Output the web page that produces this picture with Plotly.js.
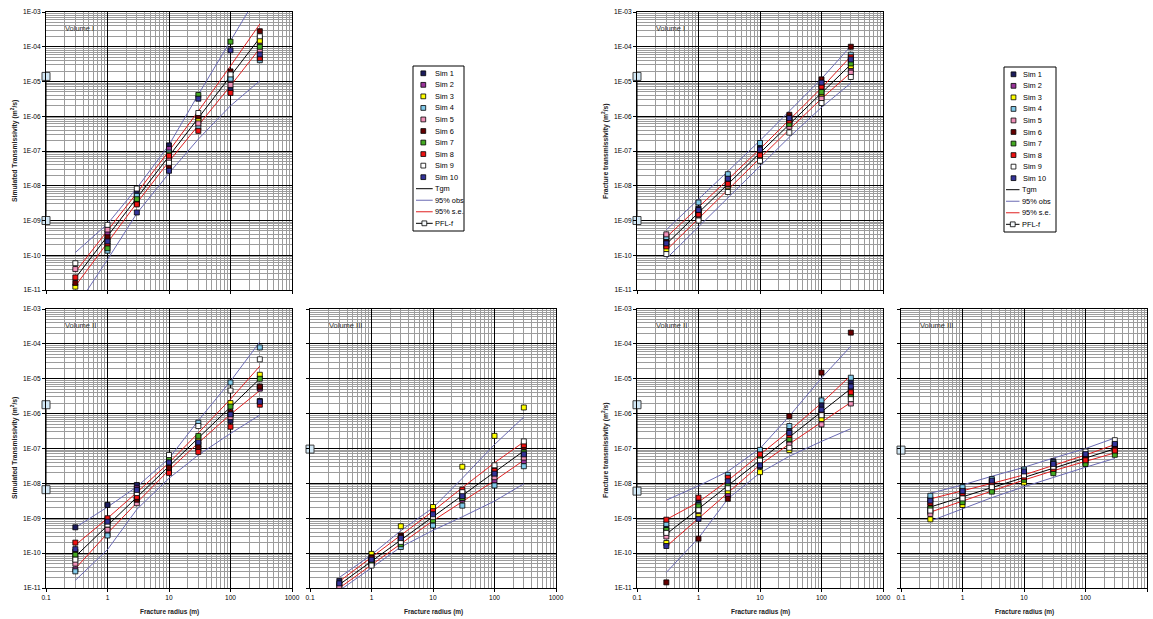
<!DOCTYPE html>
<html><head><meta charset="utf-8">
<script src="https://cdn.plot.ly/plotly-3.0.1.min.js"></script>
<style>html,body{margin:0;padding:0;background:#fff}#chart{width:1153px;height:619px}</style>
</head><body><div id="chart"></div>
<script>
// ---------- shared data ----------
const radii = [0.3, 1, 3, 10, 30, 100, 300];
const simNames = ['Sim 1','Sim 2','Sim 3','Sim 4','Sim 5','Sim 6','Sim 7','Sim 8','Sim 9','Sim 10'];
const simColors = ['#1c1c5c','#993399','#ffff00','#7fc8e8','#f090b8','#660000','#44aa22','#ee1111','#ffffff','#333399'];
const xTickVals = [0.1, 1, 10, 100, 1000];
const xTickText = ['0.1','1','10','100','1000'];
const yTickVals = [1e-11,1e-10,1e-9,1e-8,1e-7,1e-6,1e-5,1e-4,1e-3];
const yTickText = ['1E-11','1E-10','1E-09','1E-08','1E-07','1E-06','1E-05','1E-04','1E-03'];
const lineNames = ['Tgm','95% obs','95% s.e.','PFL-f'];

// ---------- Simulated, Volume I ----------
const simA = [
 [8e-12, 2.9e-10, 6.4e-9, 1.45e-7, 7e-7, 6e-6, 1.8e-4],
 [7e-12, 4.3e-10, 4.6e-9, 1.15e-7, 9e-7, 1.1e-5, 1.3e-4],
 [1.25e-11, 1.9e-10, 3.7e-9, 6.5e-8, 8e-7, 1.35e-5, 1.5e-4],
 [6e-12, 1.35e-10, 5.1e-9, 9e-8, 4.8e-7, 1.2e-5, 4.1e-5],
 [4e-11, 5.5e-10, 3.3e-9, 5.8e-8, 6.2e-7, 8e-6, 7.9e-5],
 [1.6e-11, 3.3e-10, 3.1e-9, 3.5e-8, 1e-6, 1.95e-5, 2.8e-4],
 [5e-12, 1.6e-10, 4.1e-9, 8e-8, 4.1e-6, 1.4e-4, 1e-4],
 [2.3e-11, 2.2e-10, 2.9e-9, 7.3e-8, 3.8e-7, 4.7e-6, 4.7e-5],
 [5.9e-11, 7.5e-10, 8.3e-9, 4.6e-8, 1.24e-6, 1.6e-5, 2e-4],
 [9e-12, 2.5e-10, 1.7e-9, 2.7e-8, 3.2e-6, 7.9e-5, 6e-5]
];
const tgmA  = [2.2e-11, 3.5e-10, 4.4e-9, 7.2e-8, 8.9e-7, 1.45e-5, 1.8e-4];
const seUA  = [3.3e-11, 5e-10, 6.2e-9, 1e-7, 1.4e-6, 2.8e-5, 4.5e-4];
const seLA  = [1.3e-11, 2.3e-10, 3.2e-9, 5e-8, 5.5e-7, 7.5e-6, 9e-5];
const obsUA = [1.2e-10, 8e-10, 8.5e-9, 1.5e-7, 4.2e-6, 1.4e-4, 3.8e-3];
const obsLA = [3e-12, 7.5e-11, 1.6e-9, 2.3e-8, 2.2e-7, 2e-6, 1.05e-5];
const pflXA = [0.1, 0.1];
const pflA  = [1.4e-5, 1e-9];

// ---------- Simulated, Volume II ----------
const simB = [
 [5.5e-10, 2.4e-9, 9e-9, 3.2e-8, 1.6e-7, 6.2e-7, 2.3e-6],
 [3.4e-11, 3.6e-10, 7.2e-9, 2.6e-8, 1.3e-7, 9.5e-7, 5.2e-6],
 [7.5e-11, 5.5e-10, 4.6e-9, 4.5e-8, 2e-7, 2e-6, 1.3e-5],
 [3e-11, 3.2e-10, 3.7e-9, 3.7e-8, 5.5e-7, 7.8e-6, 7.9e-5],
 [5e-11, 4.7e-10, 2.7e-9, 2.3e-8, 1e-7, 8e-7, 6e-6],
 [1.1e-10, 9e-10, 3.4e-9, 2.8e-8, 1.1e-7, 1.1e-6, 5.9e-6],
 [9e-11, 7.5e-10, 5.8e-9, 5.4e-8, 2.3e-7, 1.6e-6, 1e-5],
 [2e-10, 1e-9, 4.1e-9, 2e-8, 8e-8, 4.2e-7, 1.8e-6],
 [6.5e-11, 6.6e-10, 5.3e-9, 6.5e-8, 4.4e-7, 4.6e-6, 3.6e-5],
 [1.3e-10, 8e-10, 6.5e-9, 4e-8, 1.5e-7, 9.5e-7, 2.2e-6]
];
const tgmB  = [8e-11, 6.2e-10, 4e-9, 3.1e-8, 2e-7, 1.55e-6, 1e-5];
const seUB  = [1.7e-10, 1e-9, 5.5e-9, 3.9e-8, 2.8e-7, 2.6e-6, 2.3e-5];
const seLB  = [3.6e-11, 3.7e-10, 2.8e-9, 2.4e-8, 1.45e-7, 9.5e-7, 4.6e-6];
const obsUB = [5.4e-10, 2.1e-9, 8e-9, 5.2e-8, 6.3e-7, 8.5e-6, 1.15e-4];
const obsLB = [1.66e-11, 1.26e-10, 1.8e-9, 1.4e-8, 6.5e-8, 2.7e-7, 9.1e-7];
const pflXB = [0.1, 0.1];
const pflB  = [1.8e-6, 6.6e-9];

// ---------- Simulated, Volume III ----------
const simC = [
 [1.6e-11, 6.7e-11, 2.6e-10, 1.18e-9, 4.1e-9, 1.8e-8, 6.5e-8],
 [1.2e-11, 5.5e-11, 2.3e-10, 1e-9, 3.4e-9, 1.2e-8, 4.4e-8],
 [8e-12, 9.5e-11, 5.9e-10, 2.1e-9, 3e-8, 2.3e-7, 1.5e-6],
 [7e-12, 4.8e-11, 1.5e-10, 6.2e-10, 2.3e-9, 8.7e-9, 3.1e-8],
 [1.1e-11, 6e-11, 2e-10, 9.5e-10, 4.5e-9, 1.5e-8, 5.5e-8],
 [9e-12, 7.6e-11, 3.2e-10, 1.4e-9, 5e-9, 2.6e-8, 1.1e-7],
 [7.5e-12, 5.2e-11, 1.8e-10, 8.7e-10, 3.8e-9, 2.1e-8, 7.7e-8],
 [8.5e-12, 7e-11, 2.9e-10, 1.6e-9, 6.6e-9, 2.3e-8, 1.25e-7],
 [9.5e-12, 4.4e-11, 2.1e-10, 1.1e-9, 5.6e-9, 3.3e-8, 1.6e-7],
 [1.36e-11, 6.5e-11, 2.7e-10, 1.3e-9, 4.3e-9, 1.9e-8, 6.8e-8]
];
const tgmC  = [1.25e-11, 5.9e-11, 2.4e-10, 1.1e-9, 4.5e-9, 2.1e-8, 8.5e-8];
const seUC  = [1.55e-11, 7.5e-11, 3.3e-10, 1.6e-9, 7.5e-9, 3.9e-8, 1.55e-7];
const seLC  = [1e-11, 4.6e-11, 1.8e-10, 8.5e-10, 3e-9, 1.2e-8, 4.6e-8];
const obsUC = [2e-11, 9e-11, 4.4e-10, 2e-9, 1.4e-8, 1.3e-7, 8e-7];
const obsLC = [8.4e-12, 3.9e-11, 1.5e-10, 4.5e-10, 1.1e-9, 3.1e-9, 9.7e-9];
const pflXC = [0.1];
const pflC  = [9.6e-8];

// ---------- Fracture, Volume I ----------
const simD = [
 [2.8e-10, 2.2e-9, 1.8e-8, 1.2e-7, 9.5e-7, 6.2e-6, 4e-5],
 [3.5e-10, 1.9e-9, 1.4e-8, 1e-7, 8.1e-7, 3.6e-6, 2.2e-5],
 [1.5e-10, 1.2e-9, 9.2e-9, 6.4e-8, 6.5e-7, 4.5e-6, 2.8e-5],
 [3.2e-10, 3.3e-9, 2.15e-8, 1.7e-7, 7e-7, 8e-6, 5.9e-5],
 [4e-10, 1.4e-9, 1e-8, 8e-8, 5e-7, 3.2e-6, 1.8e-5],
 [2.4e-10, 1.7e-9, 1.25e-8, 9e-8, 1.1e-6, 1.15e-5, 1e-4],
 [2e-10, 1.6e-9, 1.1e-8, 7e-8, 6e-7, 5e-6, 3.3e-5],
 [1.8e-10, 1.5e-9, 1.15e-8, 7.5e-8, 7.5e-7, 7.1e-6, 5e-5],
 [1.08e-10, 1e-9, 6.6e-9, 5.2e-8, 3.4e-7, 2.4e-6, 1.35e-5],
 [2.2e-10, 2e-9, 1.6e-8, 1.1e-7, 8.8e-7, 9.3e-6, 4.3e-5]
];
const tgmD  = [2.1e-10, 1.66e-9, 1.1e-8, 8.7e-8, 5.8e-7, 4.6e-6, 3.1e-5];
const seUD  = [3.3e-10, 2.4e-9, 1.5e-8, 1.15e-7, 7.8e-7, 6.5e-6, 5.3e-5];
const seLD  = [1.4e-10, 1.15e-9, 8e-9, 6.5e-8, 4.2e-7, 3.2e-6, 1.8e-5];
const obsUD = [5.4e-10, 4e-9, 2.6e-8, 2e-7, 1.4e-6, 1.2e-5, 1.05e-4];
const obsLD = [8e-11, 6.5e-10, 4.5e-9, 3.6e-8, 2.5e-7, 1.8e-6, 9e-6];
const pflXD = [0.1, 0.1];
const pflD  = [1.4e-5, 1e-9];

// ---------- Fracture, Volume II ----------
const simE = [
 [5.5e-10, 2.8e-9, 5.3e-9, 3.1e-8, 3.2e-7, 1.75e-6, 8.2e-6],
 [4.2e-10, 1.85e-9, 4.5e-9, 3.6e-8, 1.6e-7, 8.5e-7, 4.9e-6],
 [1.95e-10, 1.2e-9, 6e-9, 2.1e-8, 9e-8, 7e-7, 3e-6],
 [6.9e-10, 2.4e-9, 1.75e-8, 9.1e-8, 4.4e-7, 2.4e-6, 1.07e-5],
 [3e-10, 1.6e-9, 8e-9, 4.3e-8, 1.3e-7, 4.9e-7, 1.95e-6],
 [1.45e-11, 2.6e-10, 3.6e-9, 5e-8, 8.5e-7, 1.5e-5, 2.1e-4],
 [4.6e-10, 2.2e-9, 9.3e-9, 5.4e-8, 1.85e-7, 1e-6, 3.5e-6],
 [9.1e-10, 3.9e-9, 1.45e-8, 6.8e-8, 2.4e-7, 1.15e-6, 4.1e-6],
 [3.8e-10, 1.7e-9, 7.2e-9, 4.5e-8, 1.05e-7, 9e-7, 2.6e-6],
 [1.6e-10, 9.6e-10, 1.15e-8, 3.3e-8, 2.8e-7, 1.3e-6, 6e-6]
];
const tgmE  = [3.5e-10, 1.88e-9, 8.7e-9, 4.7e-8, 2.1e-7, 1.15e-6, 5.2e-6];
const seUE  = [9.2e-10, 2.9e-9, 1.2e-8, 6.5e-8, 3.2e-7, 2e-6, 1.25e-5];
const seLE  = [1.55e-10, 1e-9, 5.6e-9, 3.4e-8, 1.35e-7, 5.8e-7, 2.1e-6];
const obsUE = [3.3e-9, 8.5e-9, 2.2e-8, 1e-7, 8.5e-7, 1.05e-5, 8.6e-5];
const obsLE = [2.8e-11, 2.7e-10, 3.6e-9, 2e-8, 6e-8, 1.6e-7, 3.7e-7];
const pflXE = [0.1, 0.1];
const pflE  = [1.8e-6, 6e-9];

// ---------- Fracture, Volume III ----------
const simF = [
 [3.5e-9, 6.5e-9, 1.1e-8, 2e-8, 4.3e-8, 6.6e-8, 1.3e-7],
 [1.5e-9, 4.4e-9, 8.5e-9, 1.6e-8, 3.2e-8, 5.6e-8, 1.1e-7],
 [9.3e-10, 2.4e-9, 6.5e-9, 1.06e-8, 2.3e-8, 4e-8, 8e-8],
 [4.4e-9, 7.8e-9, 1.33e-8, 2.5e-8, 3.9e-8, 6.2e-8, 1.2e-7],
 [1.33e-9, 3.3e-9, 7e-9, 1.4e-8, 2.8e-8, 5e-8, 9.5e-8],
 [2.25e-9, 5.7e-9, 9.5e-9, 1.8e-8, 3.4e-8, 5.2e-8, 1e-7],
 [1.9e-9, 2.9e-9, 5.8e-9, 1.27e-8, 1.96e-8, 3.6e-8, 6.6e-8],
 [2.8e-9, 5.2e-9, 9e-9, 1.5e-8, 2.6e-8, 4.6e-8, 8.7e-8],
 [1.66e-9, 3.7e-9, 7.8e-9, 1.7e-8, 3e-8, 8.2e-8, 1.73e-7],
 [3.2e-9, 6e-9, 1.2e-8, 2.2e-8, 3.6e-8, 6.9e-8, 1.35e-7]
];
const tgmF  = [2.1e-9, 4.1e-9, 7.6e-9, 1.47e-8, 2.7e-8, 5.3e-8, 9.8e-8];
const seUF  = [3.6e-9, 6e-9, 1e-8, 1.75e-8, 3.3e-8, 6.5e-8, 1.3e-7];
const seLF  = [1.5e-9, 3.1e-9, 6e-9, 1.25e-8, 2.3e-8, 4.3e-8, 7.5e-8];
const obsUF = [5.2e-9, 9e-9, 1.6e-8, 2.9e-8, 5.3e-8, 1e-7, 2e-7];
const obsLF = [8.3e-10, 1.9e-9, 3.9e-9, 8e-9, 1.5e-8, 2.9e-8, 5.2e-8];
const pflXF = [0.1];
const pflF  = [9e-8];

// ---------- layout helpers ----------
const W = 1153, H = 619;
const FONT = '"Liberation Sans", Arial, Helvetica, sans-serif';
const px = v => v / W;
const py = v => 1 - v / H;

const panels = [
  {sims:simA, tgm:tgmA, seU:seUA, seL:seLA, obsU:obsUA, obsL:obsLA, pflX:pflXA, pfl:pflA, box:[46,292,12,290], label:'Volume I',   xlab:false, ylab:true},
  {sims:simB, tgm:tgmB, seU:seUB, seL:seLB, obsU:obsUB, obsL:obsLB, pflX:pflXB, pfl:pflB, box:[46,292,309,588], label:'Volume II', xlab:true,  ylab:true},
  {sims:simC, tgm:tgmC, seU:seUC, seL:seLC, obsU:obsUC, obsL:obsLC, pflX:pflXC, pfl:pflC, box:[310,556,309,588], label:'Volume III', xlab:true, ylab:false},
  {sims:simD, tgm:tgmD, seU:seUD, seL:seLD, obsU:obsUD, obsL:obsLD, pflX:pflXD, pfl:pflD, box:[637,883,12,290], label:'Volume I',  xlab:false, ylab:true},
  {sims:simE, tgm:tgmE, seU:seUE, seL:seLE, obsU:obsUE, obsL:obsLE, pflX:pflXE, pfl:pflE, box:[637,883,309,588], label:'Volume II', xlab:true, ylab:true},
  {sims:simF, tgm:tgmF, seU:seUF, seL:seLF, obsU:obsUF, obsL:obsLF, pflX:pflXF, pfl:pflF, box:[901,1147,309,588], label:'Volume III', xlab:true, ylab:false}
];

function minorLog(lo, hi) {
  const v = [];
  for (let e = lo; e < hi; e++) for (let d = 2; d <= 9; d++) v.push(d * Math.pow(10, e));
  return v;
}
const xMinor = minorLog(-1, 3);
const yMinor = minorLog(-11, -3);

const OBS = '#6a6ab4', SE = '#e02020', TGM = '#000000';
const traces = [];
const layout = {
  width: W, height: H,
  margin: {l:0, r:0, t:0, b:0},
  paper_bgcolor: '#fff', plot_bgcolor: '#fff',
  showlegend: false,
  font: {family: FONT, size: 7, color: '#000'},
  annotations: [], shapes: []
};

panels.forEach((p, i) => {
  const n = i === 0 ? '' : String(i + 1);
  const xa = 'x' + n, ya = 'y' + n;
  const common = {
    type: 'log', showline: true, linecolor: '#000', linewidth: 1, mirror: true,
    showgrid: true, gridcolor: '#000', gridwidth: 1, zeroline: false,
    ticks: 'outside', ticklen: 3, tickcolor: '#000', tickwidth: 1,
    tickfont: {family: FONT, size: 6.6, color: '#000'}, fixedrange: true
  };
  layout['xaxis' + n] = Object.assign({}, common, {
    domain: [px(p.box[0]), px(p.box[1])], anchor: ya, range: [-1, 3],
    tickmode: 'array', tickvals: xTickVals, ticktext: xTickText, showticklabels: p.xlab,
    minor: {tickmode: 'array', tickvals: xMinor, showgrid: true, gridcolor: '#9c9c9c', gridwidth: 1, ticks: ''}
  });
  layout['yaxis' + n] = Object.assign({}, common, {
    domain: [py(p.box[3]), py(p.box[2])], anchor: xa, range: [-11, -3],
    tickmode: 'array', tickvals: yTickVals, ticktext: yTickText, showticklabels: p.ylab,
    minor: {tickmode: 'array', tickvals: yMinor, showgrid: true, gridcolor: '#9c9c9c', gridwidth: 1, ticks: ''}
  });

  const lineTrace = (y, color) => ({x: radii, y: y, xaxis: xa, yaxis: ya, type: 'scatter', mode: 'lines',
    line: {color: color, width: 1}, hoverinfo: 'skip'});
  traces.push(lineTrace(p.obsU, OBS), lineTrace(p.obsL, OBS), lineTrace(p.seU, SE), lineTrace(p.seL, SE), lineTrace(p.tgm, TGM));

  p.sims.forEach((s, j) => {
    traces.push({x: radii, y: s, xaxis: xa, yaxis: ya, type: 'scatter', mode: 'markers', name: simNames[j],
      marker: {symbol: 'square', size: 5, color: simColors[j], line: {color: '#000', width: 0.8}}, hoverinfo: 'skip'});
  });

  traces.push({x: p.pflX, y: p.pfl, xaxis: xa, yaxis: ya, type: 'scatter', mode: 'lines+markers', name: 'PFL-f',
    cliponaxis: false, line: {color: '#000', width: 1},
    marker: {symbol: 'square', size: 8, color: '#d2e8f6', line: {color: '#404040', width: 1}}, hoverinfo: 'skip'});

  layout.annotations.push({xref: xa + ' domain', yref: ya + ' domain', x: 0.068, y: 0.942, xanchor: 'left', yanchor: 'middle',
    text: p.label, showarrow: false, font: {family: FONT, size: 7.5, color: '#333'}});
});

// axis titles
const yTitleLeft = 'Simulated Transmissivity (m<sup>2</sup>/s)';
const yTitleRight = 'Fracture transmissivity (m<sup>2</sup>/s)';
const xTitle = 'Fracture radius (m)';
[[14, 151, yTitleLeft], [14, 448, yTitleLeft], [605, 151, yTitleRight], [605, 450, yTitleRight]].forEach(t => {
  layout.annotations.push({xref: 'paper', yref: 'paper', x: px(t[0]), y: py(t[1]), textangle: -90,
    xanchor: 'center', yanchor: 'middle', showarrow: false, text: '<b>' + t[2] + '</b>', font: {family: FONT, size: 6.8, color: '#222'}});
});
[[169, 612], [433, 612], [760, 612], [1024, 612]].forEach(t => {
  layout.annotations.push({xref: 'paper', yref: 'paper', x: px(t[0]), y: py(t[1]),
    xanchor: 'center', yanchor: 'middle', showarrow: false, text: '<b>' + xTitle + '</b>', font: {family: FONT, size: 6.5, color: '#222'}});
});

// legends (drawn as paper shapes + text)
function buildLegend(box, markerX, textX, lineX0, lineX1) {
  layout.shapes.push({type: 'rect', xref: 'paper', yref: 'paper', x0: px(box[0]), x1: px(box[1]), y0: py(box[3]), y1: py(box[2]),
    line: {color: '#000', width: 1}, fillcolor: '#fff', layer: 'above'});
  const first = box[2] + 7.3, step = 11.54;
  const addText = (txt, y) => layout.annotations.push({xref: 'paper', yref: 'paper', x: px(textX), y: py(y),
    xanchor: 'left', yanchor: 'middle', showarrow: false, text: txt, font: {family: FONT, size: 7.4, color: '#000'}});
  const addSquare = (cx, cy, half, fill) => layout.shapes.push({type: 'rect', xref: 'paper', yref: 'paper',
    x0: px(cx - half), x1: px(cx + half), y0: py(cy + half), y1: py(cy - half), fillcolor: fill, line: {color: '#000', width: 0.8}, layer: 'above'});
  const addLine = (cy, color) => layout.shapes.push({type: 'line', xref: 'paper', yref: 'paper',
    x0: px(lineX0), x1: px(lineX1), y0: py(cy), y1: py(cy), line: {color: color, width: 1}, layer: 'above'});
  simNames.forEach((nm, j) => {
    const y = first + j * step;
    addSquare(markerX, y, 2.4, simColors[j]);
    addText(nm, y);
  });
  const lineColors = [TGM, OBS, SE, '#000'];
  lineNames.forEach((nm, k) => {
    const y = first + (10 + k) * step;
    addLine(y, lineColors[k]);
    if (nm === 'PFL-f') addSquare((lineX0 + lineX1) / 2, y, 2.4, '#f4f8fb');
    layout.annotations.push({xref: 'paper', yref: 'paper', x: px(lineX1 + 0.5), y: py(y),
      xanchor: 'left', yanchor: 'middle', showarrow: false, text: nm, font: {family: FONT, size: 7.4, color: '#000'}});
  });
}
buildLegend([413, 464, 66, 231], 423.3, 433.3, 416, 432.7);
buildLegend([1004, 1056, 67, 232], 1013.5, 1020.5, 1006, 1019.5);

Plotly.newPlot('chart', traces, layout, {staticPlot: true, displayModeBar: false});
</script>
</body></html>
